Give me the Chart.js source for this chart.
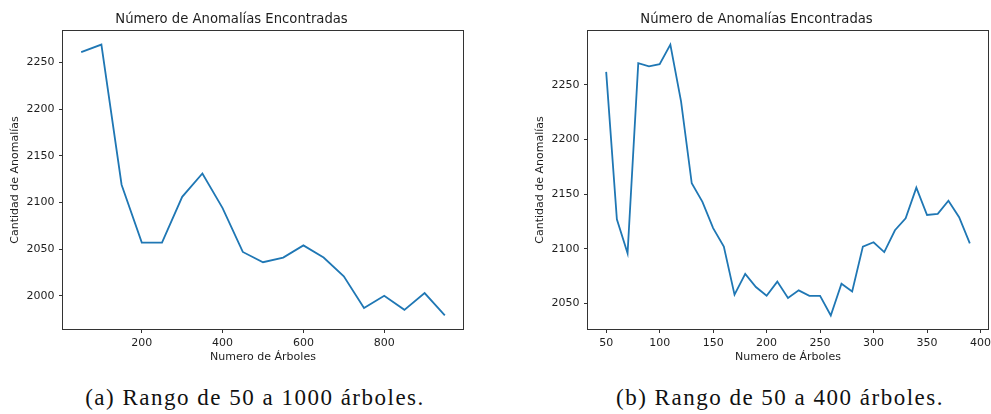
<!DOCTYPE html>
<html>
<head>
<meta charset="utf-8">
<script src="https://cdn.jsdelivr.net/npm/chart.js@4.4.1/dist/chart.umd.min.js"></script>
<style>
  html, body { margin: 0; padding: 0; background: #fff; overflow: hidden; width: 991px; height: 414px; }
  .plot { position: absolute; top: 0; }
  .caption {
    position: absolute; top: 385px; width: 420px; text-align: center;
    font-family: "Liberation Serif", "DejaVu Serif", serif; font-size: 23px; color: #111;
    letter-spacing: 1.5px; white-space: nowrap;
  }
</style>
</head>
<body>
<canvas id="chartA" class="plot" width="526" height="370" style="left:0px"></canvas>
<canvas id="chartB" class="plot" width="526" height="370" style="left:525px"></canvas>
<div class="caption" style="left:45px">(a) Rango de 50 a 1000 árboles.</div>
<div class="caption" style="left:570px">(b) Rango de 50 a 400 árboles.</div>
<script>
// chart (a): 50 - 950 trees, step 50
const treesA = [50, 100, 150, 200, 250, 300, 350, 400, 450, 500, 550, 600, 650, 700, 750, 800, 850, 900, 950];
const anomaliesA = [2261, 2269, 2119, 2057, 2057, 2106, 2131, 2094, 2047, 2036, 2041, 2054, 2041, 2021, 1987, 2000, 1985, 2003, 1979];
const xTicksA = [200, 400, 600, 800];
const yTicksA = [2000, 2050, 2100, 2150, 2200, 2250];

// chart (b): 50 - 390 trees, step 10
const treesB = [50, 60, 70, 80, 90, 100, 110, 120, 130, 140, 150, 160, 170, 180, 190, 200, 210, 220, 230, 240, 250, 260, 270, 280, 290, 300, 310, 320, 330, 340, 350, 360, 370, 380, 390];
const anomaliesB = [2262, 2127, 2096, 2270, 2267, 2269, 2287, 2235, 2160, 2143, 2119, 2102, 2058, 2077, 2065, 2057, 2070, 2055, 2062, 2057, 2057, 2039, 2068, 2061, 2102, 2106, 2097, 2117, 2128, 2156, 2131, 2132, 2144, 2129, 2105];
const xTicksB = [50, 100, 150, 200, 250, 300, 350, 400];
const yTicksB = [2050, 2100, 2150, 2200, 2250];

const titleText = "Número de Anomalías Encontradas";
const xLabel = "Numero de Árboles";
const yLabel = "Cantidad de Anomalías";

const inkColor = "#1e1e1e";
const lineColor = "#1f77b4";

// matplotlib-like 5% margins
function padded(values) {
    const lo = Math.min(...values);
    const hi = Math.max(...values);
    const m = (hi - lo) * 0.05;
    return { min: lo - m, max: hi + m };
}

// draws the full box around the plot area
const frameBox = {
    id: "frameBox",
    afterDraw(chart) {
        const { ctx, chartArea } = chart;
        ctx.save();
        ctx.strokeStyle = "#333";
        ctx.lineWidth = 1;
        ctx.strokeRect(Math.round(chartArea.left) - 0.5, Math.round(chartArea.top) - 0.5,
            Math.round(chartArea.right - chartArea.left) + 1, Math.round(chartArea.bottom - chartArea.top) + 1);
        ctx.restore();
    },
};

function makeChart(id, xs, ys, xTicks, yTicks) {
    const xr = padded(xs);
    const yr = padded(ys);
    const tickFont = { family: "'DejaVu Sans'", size: 11 };
    return new Chart(document.getElementById(id), {
        type: "line",
        data: {
            datasets: [
                {
                    data: xs.map((x, i) => ({ x: x, y: ys[i] })),
                    borderColor: lineColor,
                    borderWidth: 1.8,
                    pointRadius: 0,
                    tension: 0,
                    fill: false,
                },
            ],
        },
        options: {
            responsive: false,
            animation: false,
            devicePixelRatio: 1,
            layout: { padding: { left: 0, right: 63, top: 0, bottom: 0 } },
            plugins: {
                legend: { display: false },
                tooltip: { enabled: false },
                title: {
                    display: true,
                    text: titleText,
                    color: inkColor,
                    font: { family: "'DejaVu Sans'", size: 13.2, weight: "normal" },
                    padding: { top: 12, bottom: 3.2 },
                },
            },
            scales: {
                x: {
                    type: "linear",
                    min: xr.min,
                    max: xr.max,
                    afterBuildTicks: (scale) => {
                        scale.ticks = xTicks.map((v) => ({ value: v }));
                    },
                    afterFit: (scale) => {
                        scale.height = 41;
                    },
                    ticks: {
                        autoSkip: false,
                        maxRotation: 0,
                        color: inkColor,
                        font: tickFont,
                        padding: 3.5,
                        callback: (v) => String(v),
                    },
                    grid: {
                        drawOnChartArea: false,
                        drawTicks: true,
                        tickLength: 4,
                        tickColor: "#333",
                    },
                    border: { display: false },
                    title: {
                        display: true,
                        text: xLabel,
                        color: inkColor,
                        font: tickFont,
                        padding: { top: 0, bottom: 6.4 },
                    },
                },
                y: {
                    min: yr.min,
                    max: yr.max,
                    afterBuildTicks: (scale) => {
                        scale.ticks = yTicks.map((v) => ({ value: v }));
                    },
                    afterFit: (scale) => {
                        scale.width = 63;
                    },
                    ticks: {
                        autoSkip: false,
                        color: inkColor,
                        font: tickFont,
                        padding: 4.5,
                        callback: (v) => String(v),
                    },
                    grid: {
                        drawOnChartArea: false,
                        drawTicks: true,
                        tickLength: 4,
                        tickColor: "#333",
                    },
                    border: { display: false },
                    title: {
                        display: true,
                        text: yLabel,
                        color: inkColor,
                        font: tickFont,
                        padding: { top: 8.4, bottom: 0 },
                    },
                },
            },
        },
        plugins: [frameBox],
    });
}

makeChart("chartA", treesA, anomaliesA, xTicksA, yTicksA);
makeChart("chartB", treesB, anomaliesB, xTicksB, yTicksB);
</script>
</body>
</html>
